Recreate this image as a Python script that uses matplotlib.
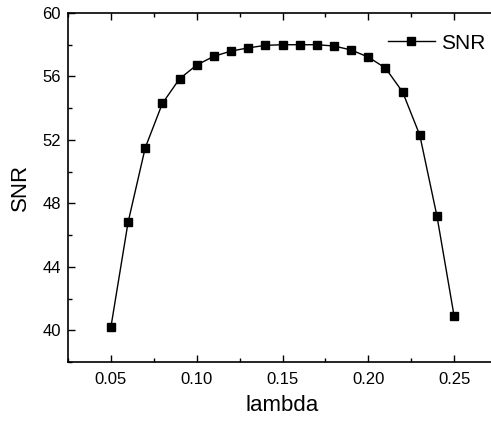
import matplotlib

matplotlib.use("Agg")
import matplotlib.pyplot as plt
from matplotlib.ticker import MultipleLocator

plt.rcParams["font.family"] = ["Liberation Sans", "DejaVu Sans"]

lam = [0.05, 0.06, 0.07, 0.08, 0.09, 0.10, 0.11, 0.12, 0.13, 0.14, 0.15,
       0.16, 0.17, 0.18, 0.19, 0.20, 0.21, 0.22, 0.23, 0.24, 0.25]
snr = [40.2, 46.8, 51.5, 54.3, 55.85, 56.72, 57.27, 57.6, 57.8, 57.96, 58.0,
       58.0, 58.0, 57.92, 57.67, 57.22, 56.53, 55.02, 52.3, 47.2, 40.9]

fig = plt.figure(figsize=(4.91, 4.23), dpi=100)
# right spine falls just outside the picture, like the reference
ax = fig.add_axes([68 / 491, 1 - 362 / 423, (497 - 68) / 491, (362 - 13) / 423])

ax.plot(lam, snr, color="black", linewidth=1.0, marker="s", markersize=5.5,
        label="SNR")

ax.set_xlim(0.025, 0.275)
ax.set_ylim(38, 60)
ax.xaxis.set_major_locator(MultipleLocator(0.05))
ax.xaxis.set_minor_locator(MultipleLocator(0.025))
ax.yaxis.set_major_locator(MultipleLocator(4))
ax.yaxis.set_minor_locator(MultipleLocator(2))
ax.xaxis.set_major_formatter(plt.FuncFormatter(lambda v, p: f"{v:.2f}"))

ax.tick_params(which="both", direction="in", top=True, right=False,
               labelsize=12, width=1.0)
ax.tick_params(which="major", length=5)
ax.tick_params(which="minor", length=3)
ax.tick_params(axis="x", pad=7)
ax.tick_params(axis="y", pad=5)
for s in ax.spines.values():
    s.set_linewidth(1.2)

ax.set_xlabel("lambda", fontsize=16, labelpad=6)
ax.set_ylabel("SNR", fontsize=16, labelpad=8)

ax.legend(loc="upper right", bbox_to_anchor=(0.992, 0.965), frameon=False,
          fontsize=15, handlelength=2.25, handletextpad=0.3, borderaxespad=0)

fig.savefig("out.png", dpi=100)
